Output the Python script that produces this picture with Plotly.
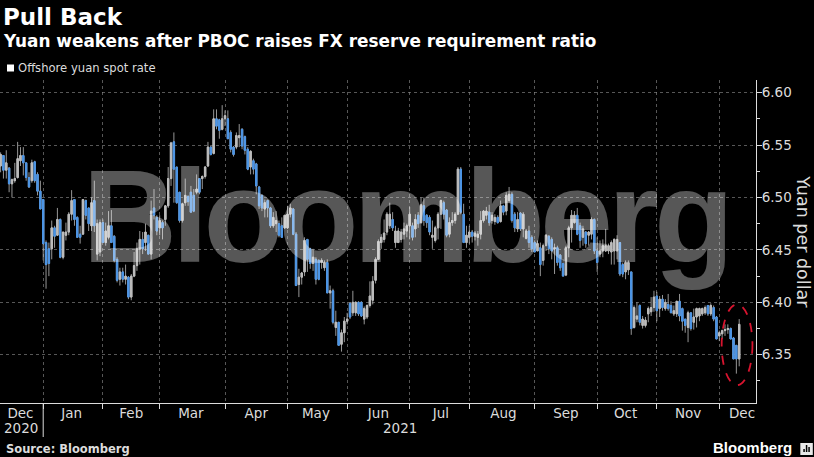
import pandas as pd
import plotly.graph_objects as go

# daily candles: (open, high, low, close)
dec20 = [(6.529,6.547,6.526,6.537),(6.530,6.543,6.524,6.541),(6.540,6.540,6.518,6.526),(6.526,6.545,6.518,6.533),
 (6.528,6.529,6.505,6.513),(6.513,6.518,6.500,6.517),(6.516,6.533,6.514,6.518),(6.519,6.553,6.518,6.537),
 (6.535,6.548,6.530,6.540),(6.540,6.548,6.521,6.533),(6.533,6.533,6.516,6.519),(6.519,6.524,6.509,6.510),
 (6.516,6.536,6.514,6.533),(6.534,6.535,6.514,6.516),(6.522,6.524,6.502,6.506),(6.506,6.516,6.489,6.489)]
jan21 = [(6.498,6.498,6.440,6.456),(6.457,6.459,6.413,6.436),(6.451,6.457,6.425,6.437),(6.451,6.478,6.441,6.471),
 (6.471,6.473,6.452,6.463),(6.464,6.490,6.464,6.479),(6.479,6.480,6.442,6.443),(6.443,6.467,6.441,6.467),
 (6.464,6.476,6.459,6.467),(6.467,6.486,6.464,6.484),(6.484,6.507,6.478,6.497),(6.498,6.498,6.473,6.479),
 (6.481,6.482,6.462,6.462),(6.465,6.473,6.456,6.462),(6.465,6.498,6.465,6.498),(6.497,6.498,6.479,6.483),
 (6.490,6.490,6.468,6.475),(6.473,6.500,6.468,6.495),(6.497,6.516,6.467,6.473),(6.446,6.479,6.440,6.475),
 (6.448,6.479,6.444,6.476)]
feb21 = [(6.476,6.479,6.457,6.457),(6.457,6.476,6.454,6.468),(6.462,6.487,6.460,6.473),(6.473,6.488,6.457,6.457),
 (6.463,6.464,6.438,6.440),(6.441,6.443,6.419,6.421),(6.422,6.433,6.416,6.429),(6.429,6.433,6.419,6.422),
 (6.422,6.436,6.417,6.425),(6.424,6.425,6.403,6.405),(6.405,6.427,6.402,6.425),(6.425,6.448,6.424,6.435),
 (6.435,6.457,6.430,6.451),(6.451,6.468,6.436,6.460),(6.460,6.467,6.446,6.451),(6.457,6.475,6.449,6.467),
 (6.464,6.464,6.446,6.446),(6.446,6.497,6.441,6.487),(6.490,6.508,6.479,6.483),(6.481,6.483,6.464,6.468)]
mar21 = [(6.471,6.483,6.464,6.478),(6.476,6.478,6.460,6.471),(6.479,6.492,6.473,6.492),(6.492,6.529,6.490,6.518),
 (6.518,6.553,6.511,6.552),(6.553,6.562,6.495,6.527),(6.529,6.529,6.494,6.495),(6.505,6.505,6.476,6.478),
 (6.478,6.495,6.476,6.494),(6.495,6.518,6.492,6.502),(6.501,6.502,6.492,6.496),(6.505,6.511,6.486,6.486),
 (6.502,6.508,6.486,6.487),(6.505,6.522,6.503,6.508),(6.518,6.518,6.503,6.505),(6.518,6.521,6.508,6.520),
 (6.520,6.530,6.518,6.529),(6.530,6.553,6.529,6.548),(6.548,6.549,6.540,6.541),(6.542,6.584,6.541,6.575),
 (6.575,6.584,6.565,6.568),(6.574,6.575,6.556,6.564),(6.565,6.588,6.564,6.575)]
apr21 = [(6.575,6.583,6.568,6.578),(6.575,6.583,6.556,6.556),(6.562,6.564,6.543,6.546),(6.548,6.549,6.539,6.541),
 (6.548,6.562,6.546,6.559),(6.557,6.570,6.548,6.559),(6.565,6.566,6.546,6.549),(6.558,6.559,6.541,6.545),
 (6.546,6.548,6.526,6.527),(6.529,6.545,6.522,6.544),(6.535,6.537,6.522,6.527),(6.532,6.533,6.503,6.511),
 (6.510,6.511,6.489,6.492),(6.502,6.503,6.487,6.490),(6.489,6.498,6.481,6.495),(6.497,6.498,6.481,6.490),
 (6.490,6.491,6.471,6.473),(6.473,6.486,6.471,6.481),(6.475,6.487,6.467,6.478),(6.475,6.478,6.462,6.464),
 (6.473,6.481,6.462,6.462),(6.471,6.483,6.470,6.483)]
may21 = [(6.471,6.492,6.470,6.484),(6.484,6.494,6.481,6.490),(6.489,6.490,6.464,6.465),(6.465,6.467,6.416,6.416),
 (6.417,6.432,6.405,6.424),(6.424,6.429,6.417,6.428),(6.429,6.462,6.425,6.459),(6.460,6.460,6.429,6.441),
 (6.451,6.452,6.432,6.437),(6.437,6.451,6.430,6.443),(6.441,6.443,6.417,6.422),(6.440,6.441,6.421,6.422),
 (6.438,6.442,6.432,6.440),(6.433,6.440,6.430,6.438),(6.438,6.441,6.409,6.409),(6.409,6.416,6.394,6.411),
 (6.411,6.413,6.379,6.381),(6.376,6.392,6.368,6.381),(6.381,6.381,6.359,6.359),(6.360,6.374,6.353,6.371),
 (6.371,6.386,6.362,6.382)]
jun21 = [(6.382,6.390,6.379,6.384),(6.399,6.400,6.384,6.386),(6.390,6.411,6.387,6.400),(6.390,6.401,6.387,6.400),
 (6.400,6.401,6.387,6.389),(6.400,6.401,6.386,6.387),(6.384,6.396,6.379,6.394),(6.386,6.398,6.384,6.397),
 (6.397,6.420,6.395,6.406),(6.402,6.425,6.398,6.420),(6.421,6.443,6.418,6.441),(6.441,6.460,6.441,6.458),
 (6.457,6.465,6.451,6.462),(6.460,6.479,6.457,6.466),(6.467,6.486,6.464,6.484),(6.473,6.495,6.470,6.484),
 (6.479,6.486,6.468,6.471),(6.457,6.473,6.452,6.468),(6.457,6.471,6.457,6.468),(6.460,6.470,6.457,6.467),
 (6.465,6.476,6.460,6.470),(6.468,6.475,6.462,6.473)]
jul21 = [(6.473,6.491,6.460,6.484),(6.473,6.476,6.459,6.462),(6.470,6.484,6.462,6.479),(6.483,6.486,6.471,6.475),
 (6.476,6.500,6.475,6.493),(6.492,6.500,6.473,6.478),(6.483,6.484,6.471,6.476),(6.481,6.483,6.464,6.467),
 (6.462,6.478,6.451,6.464),(6.459,6.473,6.457,6.471),(6.471,6.486,6.460,6.484),(6.484,6.498,6.470,6.497),
 (6.495,6.497,6.479,6.484),(6.488,6.489,6.462,6.464),(6.465,6.481,6.462,6.476),(6.476,6.486,6.473,6.478),
 (6.478,6.486,6.475,6.484),(6.484,6.529,6.484,6.527),(6.527,6.529,6.484,6.486),(6.484,6.494,6.457,6.457),
 (6.457,6.473,6.452,6.464),(6.462,6.473,6.456,6.467)]
aug21 = [(6.467,6.469,6.457,6.463),(6.463,6.468,6.459,6.466),(6.462,6.468,6.454,6.465),(6.465,6.487,6.460,6.478),
 (6.478,6.488,6.476,6.487),(6.483,6.491,6.479,6.487),(6.486,6.493,6.473,6.476),(6.478,6.486,6.475,6.483),
 (6.477,6.484,6.474,6.481),(6.481,6.483,6.475,6.476),(6.477,6.497,6.476,6.492),(6.492,6.493,6.483,6.486),
 (6.487,6.505,6.483,6.502),(6.497,6.510,6.495,6.503),(6.503,6.505,6.476,6.478),(6.484,6.486,6.467,6.471),
 (6.470,6.486,6.467,6.479),(6.485,6.486,6.468,6.470),(6.470,6.486,6.462,6.484),(6.461,6.470,6.460,6.468),
 (6.468,6.473,6.452,6.457),(6.462,6.464,6.448,6.451)]
sep21 = [(6.457,6.459,6.448,6.448),(6.449,6.459,6.449,6.456),(6.452,6.457,6.425,6.436),(6.440,6.456,6.435,6.454),
 (6.454,6.465,6.449,6.464),(6.463,6.464,6.446,6.451),(6.460,6.462,6.441,6.449),(6.451,6.456,6.427,6.452),
 (6.452,6.454,6.435,6.438),(6.445,6.446,6.430,6.433),(6.437,6.441,6.425,6.425),(6.426,6.454,6.425,6.452),
 (6.452,6.473,6.443,6.471),(6.471,6.488,6.457,6.483),(6.476,6.487,6.475,6.483),(6.483,6.490,6.464,6.465),
 (6.473,6.476,6.452,6.459),(6.462,6.473,6.454,6.470),(6.467,6.468,6.452,6.456),(6.464,6.468,6.454,6.467),
 (6.465,6.481,6.460,6.479),(6.479,6.480,6.446,6.449)]
oct21 = [(6.449,6.462,6.429,6.438),(6.446,6.459,6.443,6.449),(6.449,6.460,6.443,6.454),(6.449,6.470,6.448,6.454),
 (6.449,6.456,6.446,6.454),(6.448,6.459,6.436,6.457),(6.449,6.461,6.436,6.460),(6.449,6.464,6.441,6.460),
 (6.457,6.457,6.425,6.427),(6.436,6.438,6.424,6.427),(6.429,6.440,6.422,6.438),(6.431,6.440,6.426,6.438),
 (6.429,6.429,6.369,6.375),(6.376,6.397,6.375,6.395),(6.384,6.400,6.381,6.387),(6.397,6.398,6.378,6.381),
 (6.378,6.387,6.375,6.384),(6.378,6.386,6.376,6.383),(6.389,6.396,6.381,6.394),(6.391,6.405,6.387,6.395),
 (6.395,6.411,6.391,6.405)]
nov21 = [(6.406,6.410,6.382,6.392),(6.394,6.406,6.386,6.403),(6.403,6.407,6.392,6.395),(6.394,6.403,6.392,6.400),
 (6.398,6.408,6.392,6.394),(6.397,6.401,6.390,6.390),(6.389,6.397,6.387,6.392),(6.389,6.401,6.386,6.401),
 (6.401,6.408,6.382,6.387),(6.394,6.395,6.373,6.382),(6.384,6.384,6.371,6.378),(6.376,6.392,6.362,6.390),
 (6.390,6.390,6.373,6.375),(6.381,6.394,6.374,6.386),(6.386,6.395,6.376,6.394),(6.387,6.395,6.382,6.394),
 (6.389,6.395,6.387,6.394),(6.390,6.397,6.388,6.395),(6.397,6.397,6.387,6.389),(6.389,6.399,6.387,6.397),
 (6.395,6.397,6.382,6.384),(6.386,6.387,6.365,6.365)]
dec21 = [(6.368,6.373,6.363,6.371),(6.370,6.374,6.365,6.373),(6.373,6.379,6.368,6.374),(6.374,6.379,6.370,6.375),
 (6.375,6.376,6.365,6.365),(6.366,6.367,6.346,6.346),(6.359,6.359,6.332,6.346),(6.346,6.384,6.339,6.379)]

months = [dec20, jan21, feb21, mar21, apr21, may21, jun21, jul21, aug21, sep21, oct21, nov21, dec21]
month_labels = ["Dec","Jan","Feb","Mar","Apr","May","Jun","Jul","Aug","Sep","Oct","Nov","Dec"]
month_label_at = ["2020-12-22","2021-01-15","2021-02-15","2021-03-16","2021-04-16","2021-05-17",
                  "2021-06-16","2021-07-16","2021-08-17","2021-09-16","2021-10-15","2021-11-16","2021-12-13"]
y_ticks = [6.35, 6.40, 6.45, 6.50, 6.55, 6.60]

rows = [r for m in months for r in m]
opens, highs, lows, closes = map(list, zip(*rows))
body_top = [max(o, c) for o, c in zip(opens, closes)]
body_bot = [min(o, c) for o, c in zip(opens, closes)]
dates = pd.bdate_range("2020-12-10", periods=len(rows))

W, H = 814, 457
L, T, R, B = 0, 80, 755.7, 403
FG = "#dcdcdc"
MONO = "DejaVu Sans"
GRAY = "#bcbcbc"
BLUE = "#4a94e6"
def px(x): return (x - L) / (R - L)
def py(y): return (B - y) / (B - T)

fig = go.Figure()
# thin wicks for every day
fig.add_trace(go.Candlestick(
    x=dates, open=opens, high=highs, low=lows, close=closes, whiskerwidth=0,
    increasing=dict(line=dict(color=GRAY, width=0.8), fillcolor=GRAY),
    decreasing=dict(line=dict(color=GRAY, width=0.8), fillcolor=GRAY),
    hoverinfo="skip", showlegend=False))
# bodies: gray for rising days, blue for falling days
fig.add_trace(go.Candlestick(
    x=dates, open=opens, high=body_top, low=body_bot, close=closes, whiskerwidth=0,
    increasing=dict(line=dict(color=GRAY, width=1), fillcolor=GRAY),
    decreasing=dict(line=dict(color=BLUE, width=1), fillcolor=BLUE),
    hoverinfo="skip", showlegend=False))

def txt(text, x, y, size, bold=False, color="white", anchor="left", family=MONO):
    return dict(text=f"<b>{text}</b>" if bold else text, xref="paper", yref="paper",
                x=px(x), y=py(y), xanchor=anchor, yanchor="middle", showarrow=False,
                font=dict(family=family, size=size, color=color))

annotations = [
    dict(text="<b>Bloomberg</b>", xref="paper", yref="paper", x=px(405), y=py(216), xanchor="center",
         yanchor="middle", showarrow=False,
         font=dict(family="Liberation Sans", size=131, color="rgba(255,255,255,0.34)")),
    txt("Pull Back", 1, 17, 23, bold=True),
    txt("Yuan weakens after PBOC raises FX reserve requirement ratio", 1, 41, 16.9, bold=True),
    txt("Offshore yuan spot rate", 15.5, 68, 11.6, color=FG),
    txt("Source: Bloomberg", 4, 449, 11.5, bold=True, color=FG),
    txt("Bloomberg", 710.5, 447, 15, bold=True, family="Liberation Sans"),
    txt("2020", 21, 428, 13.5, color=FG, anchor="center"),
    txt("2021", 400, 428, 13.5, color=FG, anchor="center"),
    dict(text="Yuan per dollar", xref="paper", yref="paper", x=px(803), y=py(241.5), xanchor="center",
         yanchor="middle", textangle=90, showarrow=False, font=dict(family=MONO, size=17.5, color=FG)),
]

pshape = dict(xref="paper", yref="paper", layer="above")
shapes = [
    dict(type="rect", x0=px(7), x1=px(14), y0=py(71.5), y1=py(64.5), fillcolor="white", line_width=0, **pshape),
    dict(type="line", xref="x", yref="paper", x0="2021-01-01", x1="2021-01-01", y0=0, y1=py(437),
         line=dict(color=FG, width=1), layer="above"),
    dict(type="circle", xref="x", yref="y", x0="2021-12-01 20:00", x1="2021-12-16 16:00", y0=6.321, y1=6.398,
         line=dict(color="#d8142f", width=1.8, dash="dash"), layer="above"),
    dict(type="rect", x0=px(800), x1=px(812.5), y0=py(455), y1=py(443), fillcolor="#e8e8e8", line_width=0, **pshape),
    dict(type="rect", x0=px(803), x1=px(804.5), y0=py(452), y1=py(449), fillcolor="black", line_width=0, **pshape),
    dict(type="rect", x0=px(805.5), x1=px(807), y0=py(452), y1=py(445), fillcolor="black", line_width=0, **pshape),
    dict(type="rect", x0=px(808), x1=px(809.5), y0=py(452), y1=py(447), fillcolor="black", line_width=0, **pshape),
]

grid = "rgba(140,140,140,0.62)"
fig.update_layout(
    width=W, height=H, margin=dict(l=L, r=W - R, t=T, b=H - B),
    paper_bgcolor="black", plot_bgcolor="black",
    font=dict(family=MONO, color=FG, size=13.5),
    annotations=annotations, shapes=shapes, showlegend=False,
    xaxis=dict(
        type="date", range=["2020-12-10 19:00", "2021-12-17 22:00"], rangeslider=dict(visible=False),
        rangebreaks=[dict(bounds=["sat", "mon"])],
        tickmode="array", tickvals=month_label_at, ticktext=month_labels, ticks="", showgrid=False,
        showline=True, linecolor=FG, linewidth=1, tickfont=dict(size=13.5, color=FG), ticklabelstandoff=-2,
        minor=dict(dtick="M1", tick0="2020-12-01", showgrid=True, gridcolor=grid, griddash="dot", gridwidth=1,
                   ticks="outside", ticklen=5, tickcolor=FG, tickwidth=1),
        zeroline=False, fixedrange=True),
    yaxis=dict(
        side="right", range=[6.304, 6.612], tickmode="array", tickvals=y_ticks, ticktext=[f"{v:.2f}" for v in y_ticks],
        showgrid=True, gridcolor=grid, griddash="dot", gridwidth=1, showline=True, linecolor=FG, linewidth=1,
        ticks="outside", ticklen=5, tickcolor=FG, tickwidth=1, tickfont=dict(size=13.5, color=FG),
        ticklabelstandoff=-3,
        minor=dict(dtick=0.025, tick0=6.3, ticks="outside", ticklen=3, tickcolor=FG, tickwidth=1, showgrid=False),
        zeroline=False, fixedrange=True),
)
post = """
document.body.style.margin='0';document.body.style.background='black';
function tight(){var t=document.querySelector('.annotation-text');if(t){t.style.letterSpacing='-5px';}}
tight();setTimeout(tight,50);
"""
fig.write_html("out.html", config=dict(displayModeBar=False), post_script=post)
